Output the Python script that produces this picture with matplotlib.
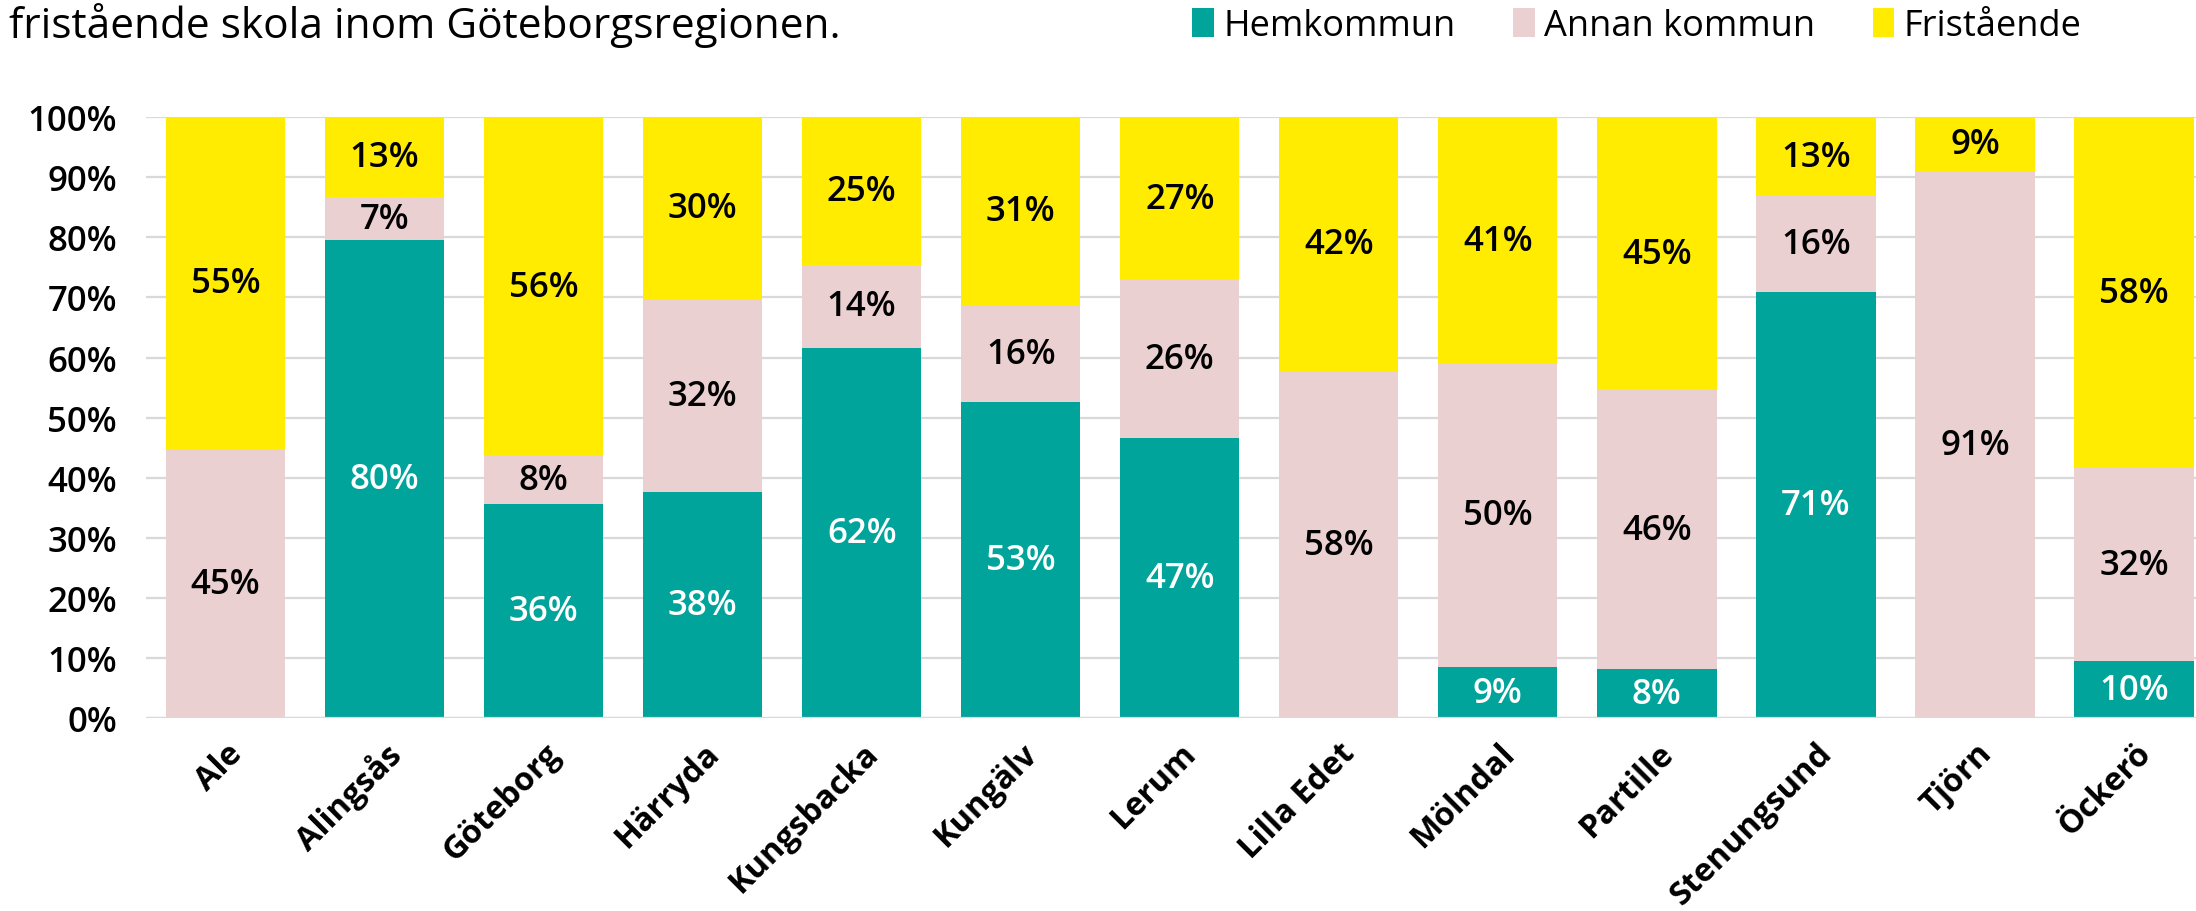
import numpy as np
import matplotlib.pyplot as plt
from matplotlib.patches import Patch

plt.rcParams['font.family'] = ['Open Sans', 'DejaVu Sans']

kommuner = ['Ale', 'Alingsås', 'Göteborg', 'Härryda', 'Kungsbacka', 'Kungälv', 'Lerum',
            'Lilla Edet', 'Mölndal', 'Partille', 'Stenungsund', 'Tjörn', 'Öckerö']
hemkommun = [0.0, 79.5, 35.6, 37.6, 61.6, 52.6, 46.6, 0.0, 8.6, 8.2, 70.9, 0.0, 9.6]
annan_kommun = [44.7, 7.2, 8.0, 32.0, 13.8, 16.0, 26.3, 57.7, 50.3, 46.4, 15.9, 90.9, 32.0]
fristaende = [55.3, 13.3, 56.4, 30.4, 24.6, 31.4, 27.1, 42.3, 41.1, 45.4, 13.2, 9.1, 58.4]

serier = ['Hemkommun', 'Annan kommun', 'Fristående']
farger = ['#00A49B', '#EBD0D1', '#FFEC00']
textfarg = ['white', 'black', 'black']

fig = plt.figure(figsize=(21.96, 9.12), dpi=100)
ax = fig.add_axes([0.0665, 0.2111, 0.9335, 0.6595])

x = np.arange(len(kommuner))
bottom = np.zeros(len(kommuner))
for vals, namn, farg, tf in zip([hemkommun, annan_kommun, fristaende], serier, farger, textfarg):
    vals = np.array(vals)
    ax.bar(x, vals, 0.75, bottom=bottom, color=farg, label=namn, zorder=2)
    for i, v in enumerate(vals):
        if v > 0:
            ax.text(x[i], bottom[i] + v / 2, f'{round(v):.0f}%', ha='center', va='center',
                    fontsize=25, fontweight='semibold', color=tf, zorder=3)
    bottom += vals

ax.set_xlim(-0.5, 12.39)
ax.set_ylim(0, 100)
ax.set_yticks(np.arange(0, 101, 10))
ax.set_yticklabels([f'{t}%' for t in range(0, 101, 10)], fontsize=25, fontweight='semibold')
ax.yaxis.grid(True, color='#d9d9d9', linewidth=1.6, zorder=0)
ax.set_axisbelow(True)
ax.axhline(0, color='#d9d9d9', linewidth=1.6, zorder=4)
for s in ax.spines.values():
    s.set_visible(False)
ax.tick_params(axis='both', length=0)
ax.tick_params(axis='y', pad=21)

ax.set_xticks(x)
ax.set_xticklabels(kommuner, rotation=45, ha='right', va='top', rotation_mode='anchor',
                   fontsize=23.5, fontweight='bold')
ax.tick_params(axis='x', pad=13)

fig.text(0.004, 0.958, 'fristående skola inom Göteborgsregionen.', fontsize=30.5,
         ha='left', va='baseline')

handles = [Patch(facecolor=f, label=n) for f, n in zip(farger, serier)]
fig.legend(handles=handles, loc='center left', bbox_to_anchor=(0.543, 0.97), ncol=3,
           frameon=False, fontsize=26, handlelength=0.6, handleheight=0.85,
           handletextpad=0.25, columnspacing=1.6, borderaxespad=0, borderpad=0)

fig.savefig('out.png', dpi=100)
